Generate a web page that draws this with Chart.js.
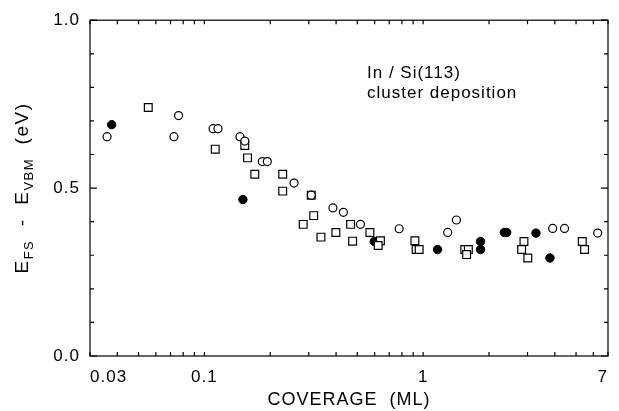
<!DOCTYPE html>
<html>
<head>
<meta charset="utf-8">
<script src="https://cdn.jsdelivr.net/npm/chart.js@4.4.1/dist/chart.umd.min.js"></script>
<style>
  html, body { margin: 0; padding: 0; background: #fff; }
</style>
</head>
<body>
<canvas id="chart" width="619" height="411"></canvas>
<script>
// open circles
const openX = [0.0359, 0.0726, 0.0762, 0.1096, 0.1154, 0.1454, 0.153, 0.184, 0.194, 0.257, 0.308, 0.387, 0.432, 0.517, 0.777, 1.295, 1.42, 3.91, 4.43, 6.28];
const openY = [0.653, 0.653, 0.716, 0.677, 0.677, 0.653, 0.640, 0.579, 0.579, 0.515, 0.479, 0.441, 0.428, 0.392, 0.379, 0.368, 0.405, 0.380, 0.380, 0.366];
// open squares
const squareX = [0.0554, 0.1121, 0.153, 0.1575, 0.17, 0.228, 0.228, 0.308, 0.316, 0.283, 0.341, 0.399, 0.466, 0.476, 0.571, 0.638, 0.623, 0.917, 0.929, 0.959, 1.55, 1.61, 1.58, 2.89, 2.82, 3.01, 5.34, 5.47];
const squareY = [0.740, 0.616, 0.627, 0.590, 0.541, 0.541, 0.491, 0.479, 0.418, 0.392, 0.354, 0.368, 0.392, 0.342, 0.368, 0.343, 0.329, 0.343, 0.317, 0.317, 0.317, 0.317, 0.302, 0.341, 0.317, 0.292, 0.341, 0.317];
// filled circles
const filledX = [0.0377, 0.150, 0.598, 1.164, 1.83, 1.83, 2.35, 2.41, 3.28, 3.80];
const filledY = [0.689, 0.466, 0.341, 0.317, 0.341, 0.317, 0.368, 0.368, 0.366, 0.292];

const xTicks = [0.03, 0.1, 1, 7];
const xTickLabels = ['0.03', '0.1', '1', '7'];
const xMinor = [0.04, 0.05, 0.06, 0.07, 0.08, 0.09, 0.2, 0.3, 0.4, 0.5, 0.6, 0.7, 0.8, 0.9, 2, 3, 4, 5, 6];
const yTicks = [0, 0.5, 1];
const yTickLabels = ['0.0', '0.5', '1.0'];
const yMinor = [0.1, 0.2, 0.3, 0.4, 0.6, 0.7, 0.8, 0.9];

const FONT = "'Liberation Sans', Arial, sans-serif";
const toPoints = (xs, ys) => xs.map((x, i) => ({ x: x, y: ys[i] }));

// frame on all four sides with inward ticks
const framePlugin = {
  id: 'frame',
  afterDraw(chart) {
    const { ctx, chartArea: a } = chart;
    const xs = chart.scales.x, ys = chart.scales.y;
    ctx.save();
    ctx.strokeStyle = '#000';
    ctx.lineWidth = 1.2;
    ctx.strokeRect(a.left, a.top, a.right - a.left, a.bottom - a.top);
    ctx.beginPath();
    xMinor.concat(xTicks).forEach(v => {
      const px = xs.getPixelForValue(v);
      ctx.moveTo(px, a.bottom); ctx.lineTo(px, a.bottom - 4);
      ctx.moveTo(px, a.top); ctx.lineTo(px, a.top + 4);
    });
    yMinor.forEach(v => {
      const py = ys.getPixelForValue(v);
      ctx.moveTo(a.left, py); ctx.lineTo(a.left + 4, py);
      ctx.moveTo(a.right, py); ctx.lineTo(a.right - 4, py);
    });
    yTicks.forEach(v => {
      const py = ys.getPixelForValue(v);
      ctx.moveTo(a.left, py); ctx.lineTo(a.left + 7, py);
      ctx.moveTo(a.right, py); ctx.lineTo(a.right - 7, py);
    });
    ctx.stroke();
    ctx.restore();
  }
};

// rotated y title with subscripts, plus the inset note
const textPlugin = {
  id: 'texts',
  beforeDraw(chart) {
    chart.ctx.letterSpacing = '1px';
  },
  afterDraw(chart) {
    const ctx = chart.ctx;
    ctx.save();
    ctx.fillStyle = '#000';
    ctx.textBaseline = 'alphabetic';
    ctx.letterSpacing = '1.5px';

    const parts = [
      { t: 'E', size: 19, dy: 0 },
      { t: 'FS', size: 13, dy: 5 },
      { t: '  -  ', size: 19, dy: 0 },
      { t: 'E', size: 19, dy: 0 },
      { t: 'VBM', size: 13, dy: 5 },
      { t: '  (eV)', size: 19, dy: 0 }
    ];
    let total = 0;
    parts.forEach(p => { ctx.font = p.size + 'px ' + FONT; p.w = ctx.measureText(p.t).width; total += p.w; });
    ctx.translate(28, 188);
    ctx.rotate(-Math.PI / 2);
    let cx = -total / 2;
    parts.forEach(p => {
      ctx.font = p.size + 'px ' + FONT;
      ctx.fillText(p.t, cx, p.dy);
      cx += p.w;
    });
    ctx.restore();

    ctx.save();
    ctx.fillStyle = '#000';
    ctx.letterSpacing = '1px';
    ctx.font = '17px ' + FONT;
    ctx.textBaseline = 'middle';
    ctx.fillText('In / Si(113)', 367, 73);
    ctx.fillText('cluster deposition', 367, 93);
    ctx.restore();
  }
};

new Chart(document.getElementById('chart'), {
  type: 'scatter',
  data: {
    datasets: [
      { label: 'open', data: toPoints(openX, openY), pointStyle: 'circle', pointRadius: 4, borderColor: '#000', backgroundColor: '#fff', borderWidth: 1.2 },
      { label: 'square', data: toPoints(squareX, squareY), pointStyle: 'rect', pointRadius: 5.5, borderColor: '#000', backgroundColor: '#fff', borderWidth: 1.2 },
      { label: 'filled', data: toPoints(filledX, filledY), pointStyle: 'circle', pointRadius: 4.2, borderColor: '#000', backgroundColor: '#000', borderWidth: 1 }
    ]
  },
  options: {
    responsive: false,
    animation: false,
    events: [],
    layout: { padding: { top: 16, right: 3, left: 0, bottom: 0 } },
    plugins: { legend: { display: false }, tooltip: { enabled: false } },
    scales: {
      x: {
        type: 'logarithmic',
        min: 0.03,
        max: 7,
        afterBuildTicks: s => { s.ticks = xTicks.map(v => ({ value: v })); },
        afterFit: s => { s.height = 55; },
        grid: { display: false, drawTicks: false },
        border: { display: false },
        ticks: {
          autoSkip: false,
          maxRotation: 0,
          align: 'inner',
          padding: 11,
          color: '#000',
          font: { family: FONT, size: 17 },
          callback: (v, i) => xTickLabels[i]
        },
        title: {
          display: true,
          text: 'COVERAGE  (ML)',
          color: '#000',
          font: { family: FONT, size: 18, lineHeight: 1 },
          padding: { top: 0, bottom: 2 }
        }
      },
      y: {
        min: 0,
        max: 1,
        afterBuildTicks: s => { s.ticks = yTicks.map(v => ({ value: v })); },
        afterFit: s => { s.width = 90; },
        grid: { display: false, drawTicks: false },
        border: { display: false },
        ticks: {
          padding: 10,
          color: '#000',
          font: { family: FONT, size: 17 },
          callback: (v, i) => yTickLabels[i]
        }
      }
    }
  },
  plugins: [framePlugin, textPlugin]
});
</script>
</body>
</html>
